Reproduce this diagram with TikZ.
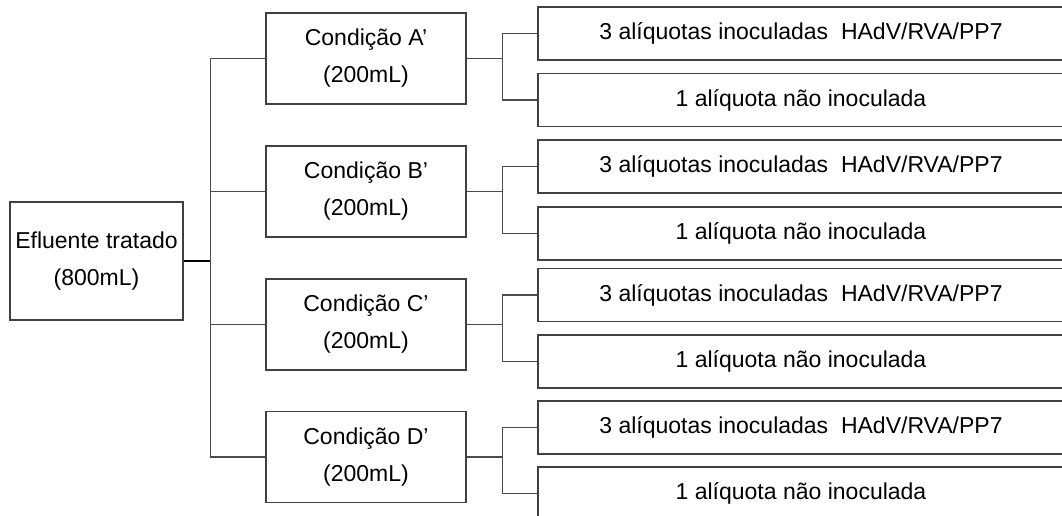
\documentclass[tikz,border=0pt]{standalone}
\usepackage{fontspec}
\setmainfont{Liberation Sans}
\usetikzlibrary{positioning}

\tikzset{
  caixa/.style={draw=black!75, line width=1.2pt, fill=white, inner sep=2pt,
    align=center, font=\fontsize{23}{37}\selectfont},
  raiz/.style={caixa, minimum width=173pt, minimum height=118pt},
  cond/.style={caixa, minimum width=200pt, minimum height=91pt},
  aliq/.style={caixa, minimum width=526pt, minimum height=53pt},
  liga/.style={draw=black!70, line width=1.2pt}
}

\begin{document}
\begin{tikzpicture}[x=1pt,y=-1pt]
\useasboundingbox (0,0) rectangle (1062,515);
\clip (0,0) rectangle (1062,515);
% Amostra inicial
\node[raiz] (efluente) at (96.5,261) {Efluente tratado\\(800mL)};
%
\node[cond] (condA) at (366,58.5) {Condição A’\\(200mL)};
\node[cond] (condB) at (366,191.5) {Condição B’\\(200mL)};
\node[cond] (condC) at (366,324.5) {Condição C’\\(200mL)};
\node[cond] (condD) at (366,457) {Condição D’\\(200mL)};
%
\node[aliq] (inocA) at (801,33.5) {3 alíquotas inoculadas~ HAdV/RVA/PP7};
\node[aliq] (brancoA) at (801,100) {1 alíquota não inoculada};
\node[aliq] (inocB) at (801,166.5) {3 alíquotas inoculadas~ HAdV/RVA/PP7};
\node[aliq] (brancoB) at (801,233.5) {1 alíquota não inoculada};
\node[aliq] (inocC) at (801,295) {3 alíquotas inoculadas~ HAdV/RVA/PP7};
\node[aliq] (brancoC) at (801,361.5) {1 alíquota não inoculada};
\node[aliq] (inocD) at (801,427.5) {3 alíquotas inoculadas~ HAdV/RVA/PP7};
\node[aliq] (brancoD) at (801,493.5) {1 alíquota não inoculada};
%
% Ligacoes
\coordinate[right=27pt of efluente] (tronco);
\draw[liga, line width=1.6pt, draw=black] (efluente) -- (tronco);
\draw[liga] (tronco) |- (condA);
\draw[liga] (tronco) |- (condB);
\draw[liga] (tronco) |- (condC);
\draw[liga] (tronco) |- (condD);
%
\coordinate[right=36pt of condA] (garfoA);
\coordinate[right=36pt of condB] (garfoB);
\coordinate[right=36pt of condC] (garfoC);
\coordinate[right=36pt of condD] (garfoD);
\draw[liga] (condA) -- (garfoA) |- (inocA);
\draw[liga] (garfoA) |- (brancoA);
\draw[liga] (condB) -- (garfoB) |- (inocB);
\draw[liga] (garfoB) |- (brancoB);
\draw[liga] (condC) -- (garfoC) |- (inocC);
\draw[liga] (garfoC) |- (brancoC);
\draw[liga] (condD) -- (garfoD) |- (inocD);
\draw[liga] (garfoD) |- (brancoD);
%
\end{tikzpicture}
\end{document}
